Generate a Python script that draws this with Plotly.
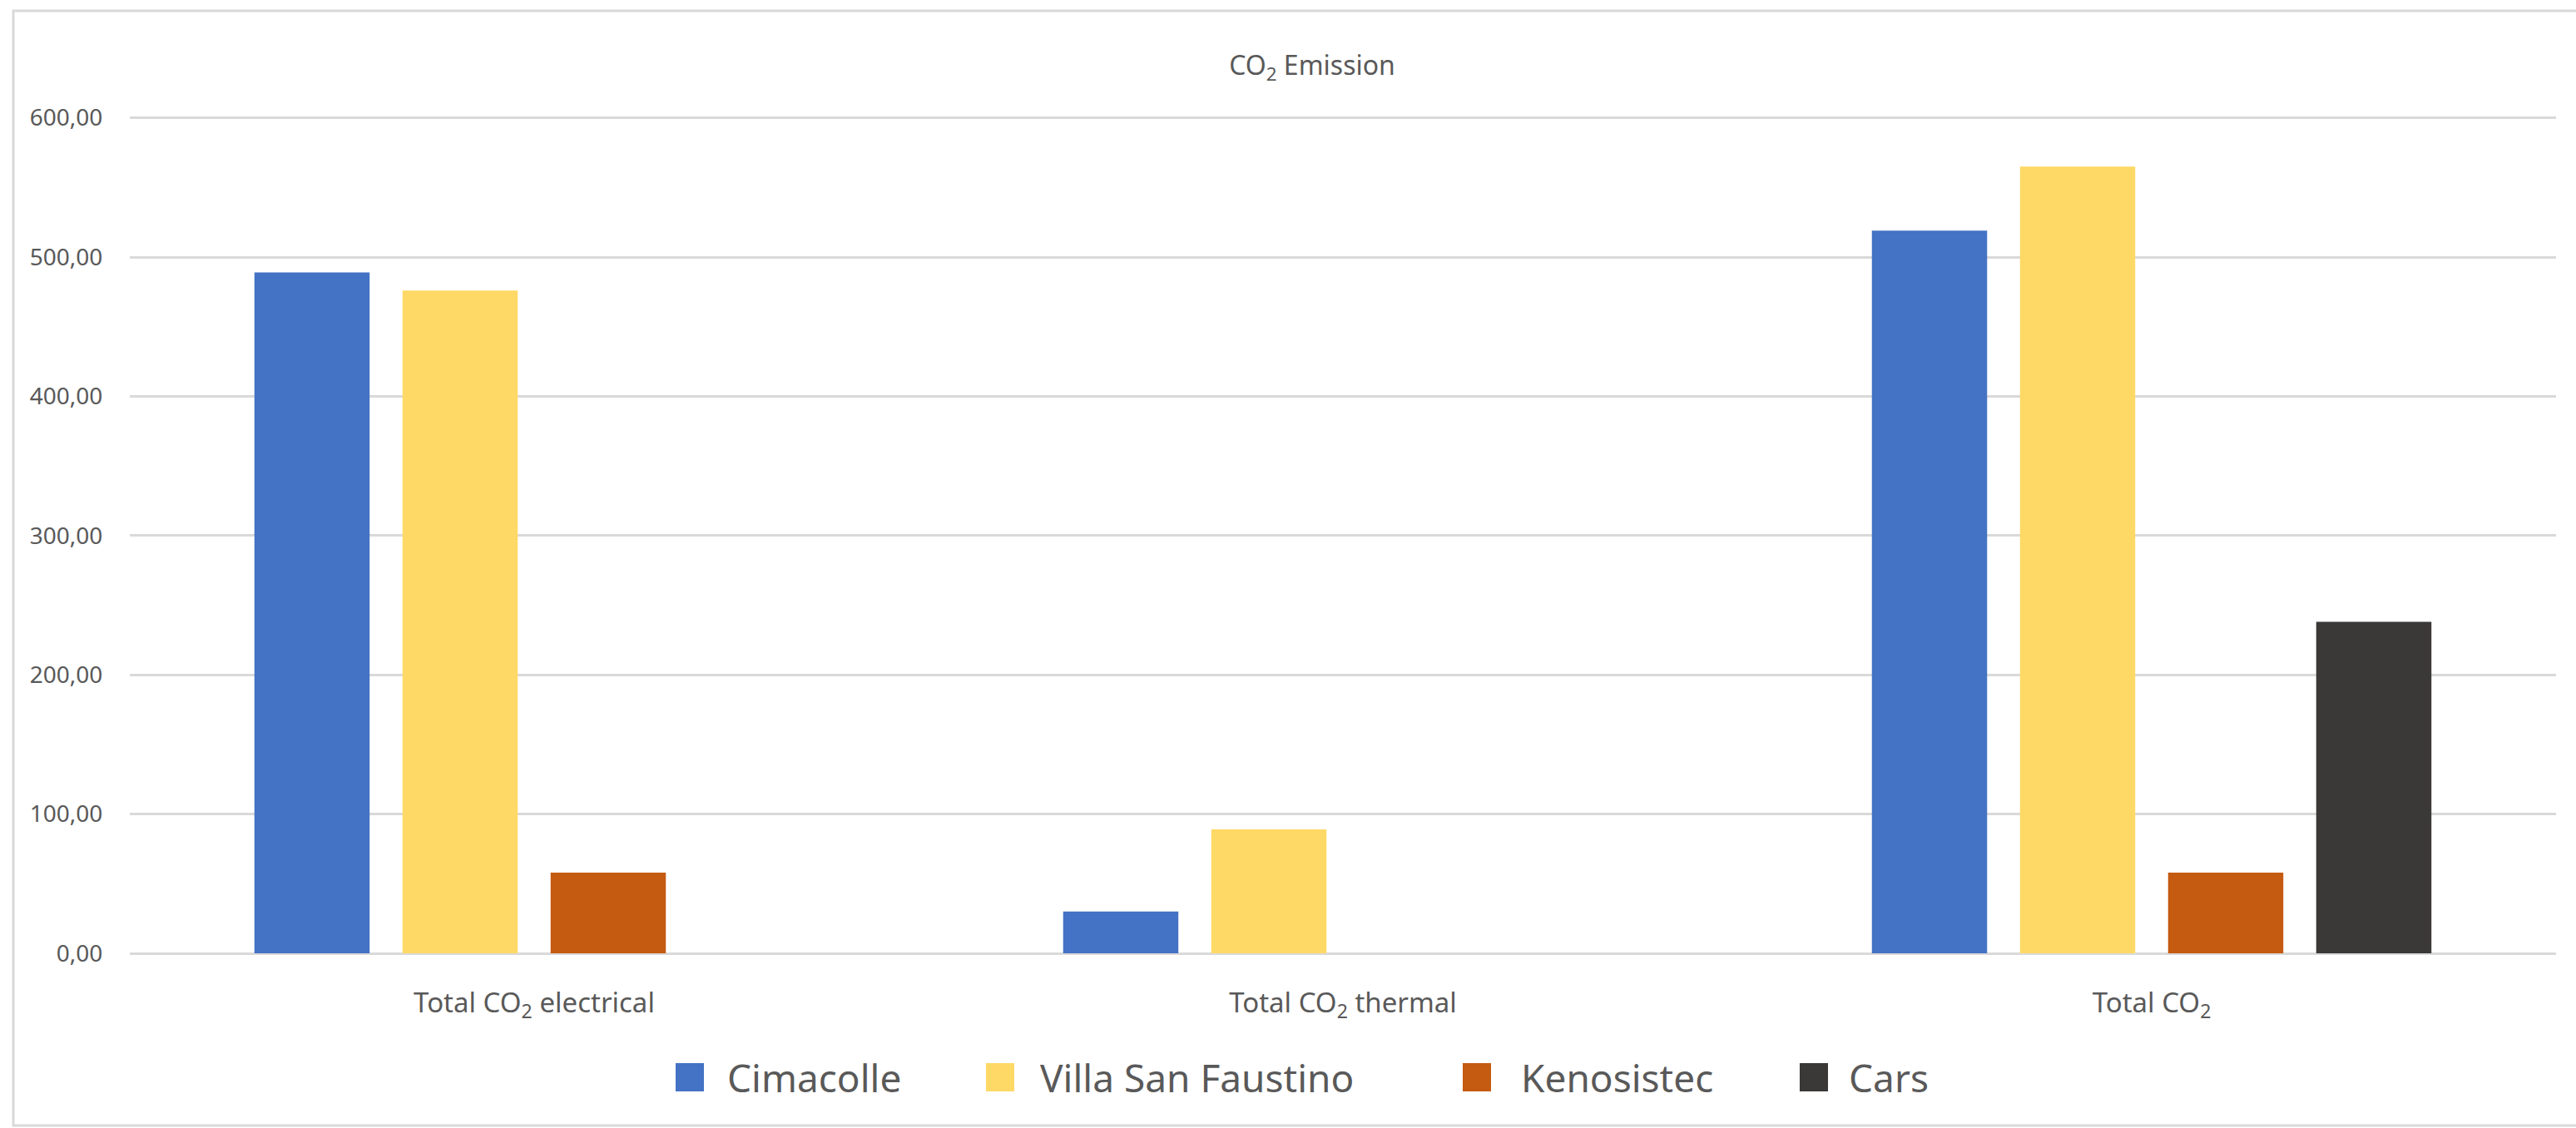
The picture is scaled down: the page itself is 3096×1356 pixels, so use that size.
import plotly.graph_objects as go

# Categories and series values (tonnes of CO2)
categories = ["Total CO2 electrical", "Total CO2 thermal", "Total CO2"]
category_labels = ["Total CO<sub>2</sub> electrical", "Total CO<sub>2</sub> thermal", "Total CO<sub>2</sub>"]

series_names = ["Cimacolle", "Villa San Faustino", "Kenosistec", "Cars"]
cimacolle = [489, 30, 519]
villa_san_faustino = [476, 89, 565]
kenosistec = [58, None, 58]
cars = [None, None, 238]
series_values = [cimacolle, villa_san_faustino, kenosistec, cars]
series_colors = ["#4472C4", "#FFD966", "#C55A11", "#3B3838"]

y_ticks = [0, 100, 200, 300, 400, 500, 600]

TEXT = "#595959"
GRID = "#D9D9D9"
W, H = 3096, 1356
ML, MR, MT, MB = 156, 24, 140, 210

fig = go.Figure()
for name, vals, col in zip(series_names, series_values, series_colors):
    fig.add_trace(go.Bar(
        x=categories, y=vals, name=name,
        marker=dict(color=col, line=dict(width=0)),
        showlegend=False,
    ))

plot_w = W - ML - MR
plot_h = H - MT - MB


def px_to_paper_x(px):
    return (px - ML) / plot_w


def px_to_paper_y(py):
    return (H - MB - py) / plot_h


# Legend: coloured squares with series names beneath the plot
legend_square_x = [812, 1185, 1758, 2163]
legend_text_x = [872, 1248, 1826, 2220]
legend_cy = 1295
sq = 34
shapes = []
annotations = []
for name, col, sx, tx in zip(series_names, series_colors, legend_square_x, legend_text_x):
    shapes.append(dict(
        type="rect", xref="paper", yref="paper",
        x0=px_to_paper_x(sx), x1=px_to_paper_x(sx + sq),
        y0=px_to_paper_y(legend_cy + sq / 2), y1=px_to_paper_y(legend_cy - sq / 2),
        fillcolor=col, line=dict(width=0),
    ))
    annotations.append(dict(
        xref="paper", yref="paper",
        x=px_to_paper_x(tx), y=px_to_paper_y(legend_cy),
        xanchor="left", yanchor="middle", showarrow=False,
        text=name, font=dict(family="Noto Sans", size=46, color=TEXT),
    ))

# Light chart-area border
shapes.append(dict(
    type="rect", xref="paper", yref="paper",
    x0=px_to_paper_x(16), x1=px_to_paper_x(W + 10),
    y0=px_to_paper_y(1353), y1=px_to_paper_y(13),
    line=dict(color=GRID, width=3), fillcolor="rgba(0,0,0,0)", layer="below",
))

fig.update_layout(
    width=W, height=H,
    margin=dict(l=ML, r=MR, t=MT, b=MB, pad=0),
    paper_bgcolor="white", plot_bgcolor="white",
    separators=",.",
    barmode="group",
    bargap=0.2675,
    bargroupgap=0.222,
    title=dict(
        text="CO<sub>2</sub> Emission",
        x=1577 / W, xref="container", xanchor="center",
        y=1 - 79 / H, yref="container", yanchor="middle",
        font=dict(family="Noto Sans", size=32, color=TEXT),
    ),
    xaxis=dict(
        type="category",
        range=[-0.5, 2.5],
        tickvals=categories, ticktext=category_labels,
        tickfont=dict(family="Noto Sans", size=33, color=TEXT),
        showgrid=False, zeroline=False, showline=False,
        ticks="outside", ticklen=30, tickcolor="rgba(0,0,0,0)",
    ),
    yaxis=dict(
        range=[0, 601],
        tickvals=y_ticks, tickformat=".2f",
        tickfont=dict(family="Noto Sans", size=28, color=TEXT),
        showgrid=True, gridcolor=GRID, gridwidth=2.5,
        zeroline=True, zerolinecolor=GRID, zerolinewidth=2.5,
        showline=False,
        ticks="outside", ticklen=26, tickcolor="rgba(0,0,0,0)",
    ),
    shapes=shapes,
    annotations=annotations,
)

fig.write_html("out.html")
